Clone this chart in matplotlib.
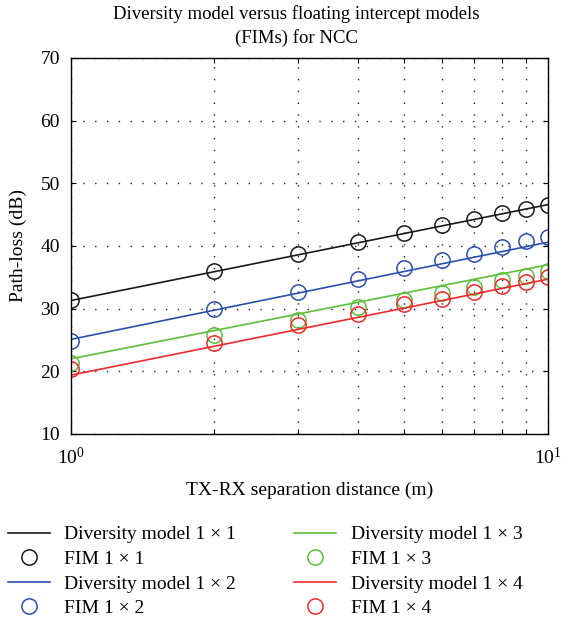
import matplotlib
matplotlib.use("Agg")
import matplotlib.pyplot as plt
import numpy as np
from matplotlib.ticker import LogLocator, NullFormatter

plt.rcParams['font.family'] = ['Liberation Serif', 'DejaVu Serif']
plt.rcParams['mathtext.fontset'] = 'stix'

d = [1, 2, 3, 4, 5, 6, 7, 8, 9, 10]
fim_11 = [31.4, 36.0, 38.7, 40.6, 42.0, 43.3, 44.3, 45.2, 45.9, 46.6]
fim_12 = [24.8, 29.9, 32.7, 34.8, 36.5, 37.8, 38.8, 39.9, 40.8, 41.5]
fim_13 = [21.3, 25.8, 28.2, 30.2, 31.4, 32.5, 33.5, 34.6, 35.2, 36.0]
fim_14 = [20.4, 24.6, 27.4, 29.1, 30.7, 31.6, 32.7, 33.6, 34.2, 35.0]
model_d = [1, 10]
model_11 = [31.3, 46.6]
model_12 = [25.1, 40.6]
model_13 = [22.0, 37.0]
model_14 = [19.4, 34.7]

colors = ['#1a1a1a', '#2b4fb0', '#5cbf3a', '#f02a2a']

fig = plt.figure(figsize=(5.63, 6.25), dpi=100)
ax = fig.add_axes([0.126, 0.3056, 0.847, 0.6016])

handles = []
models = [model_11, model_12, model_13, model_14]
fims = [fim_11, fim_12, fim_13, fim_14]
names = ['1 \u00d7 1', '1 \u00d7 2', '1 \u00d7 3', '1 \u00d7 4']
for m, f, c, n in zip(models, fims, colors, names):
    l, = ax.plot(model_d, m, '-', color=c, lw=1.2, label='Diversity model ' + n)
    p, = ax.plot(d, f, 'o', mfc='none', mec=c, ms=11, mew=1.1, label='FIM ' + n)
    handles += [l, p]

ax.set_xscale('log')
ax.set_xlim(1, 10)
ax.set_ylim(10, 70)
ax.set_yticks([10, 20, 30, 40, 50, 60, 70])
ax.xaxis.set_minor_locator(LogLocator(base=10, subs=np.arange(2, 10)))
ax.xaxis.set_minor_formatter(NullFormatter())
ax.grid(True, which='both', axis='x', linestyle=(0, (1, 7.5)), color='#222222', lw=1.0)
ax.grid(True, which='major', axis='y', linestyle=(0, (1, 7.5)), color='#222222', lw=1.0)
ax.tick_params(which='both', direction='in', top=True, right=True, labelsize=14,
               length=3.5, width=0.8)
ax.tick_params(axis='y', pad=8)
ax.tick_params(axis='x', which='major', pad=9)
for s in ax.spines.values():
    s.set_linewidth(1.0)

ax.set_xlabel('TX-RX separation distance (m)', fontsize=14)
ax.xaxis.set_label_coords(0.5, -0.127)
ax.set_ylabel('Path-loss (dB)', fontsize=14)
ax.yaxis.set_label_coords(-0.092, 0.5)

fig.text(0.526, 1 - 14 / 625, 'Diversity model versus floating intercept models',
         ha='center', va='center', fontsize=13.5)
fig.text(0.526, 1 - 38 / 625, '(FIMs) for NCC', ha='center', va='center', fontsize=13.5)

fig.legend(handles=handles, loc='lower left', bbox_to_anchor=(0.0, 0.0), ncol=2,
           frameon=False, fontsize=14, handlelength=2.15, columnspacing=3.0,
           labelspacing=0.36, handletextpad=0.75, borderaxespad=0.0, borderpad=0.4)

fig.savefig('out.png', dpi=100)
